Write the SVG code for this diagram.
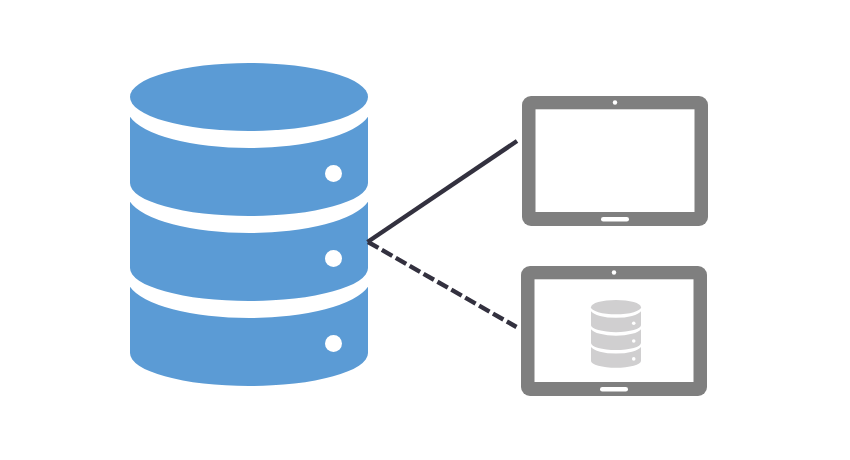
<svg xmlns="http://www.w3.org/2000/svg" width="850" height="460" viewBox="0 0 850 460">
  <style>
    .body { fill: #7f7f7f; }
    .screen, .dot { fill: #ffffff; }
    .link { fill: none; stroke: #33313f; stroke-width: 4.4; }
    .dashed { stroke-dasharray: 12 4; }
  </style>
  <defs>
    <g id="db">
      <ellipse cx="249" cy="97" rx="119" ry="34"/>
      <path d="M130 116.8 A122 40 0 0 0 368 116.8 V183 A119 33 0 0 1 130 183 Z"/>
      <path d="M130 201.8 A122 40 0 0 0 368 201.8 V268 A119 33 0 0 1 130 268 Z"/>
      <path d="M130 286.8 A122 40 0 0 0 368 286.8 V353 A119 33 0 0 1 130 353 Z"/>
      <circle class="dot" cx="333.5" cy="173.5" r="8.5"/>
      <circle class="dot" cx="333.5" cy="258.5" r="8.5"/>
      <circle class="dot" cx="333.5" cy="343.5" r="8.5"/>
    </g>
    <g id="tablet">
      <rect class="body" x="522" y="96" width="186" height="130" rx="9"/>
      <rect class="screen" x="535.5" y="109.3" width="159" height="102.7"/>
      <circle class="screen" cx="615" cy="102.5" r="2.2"/>
      <rect class="screen" x="601" y="217" width="28" height="4.5" rx="2.25"/>
    </g>
  </defs>
  <g id="database" fill="#5b9bd5"><use href="#db"/></g>
  <g id="tablet-empty"><use href="#tablet"/></g>
  <g id="tablet-database">
    <use href="#tablet" transform="translate(-1 170)"/>
    <use href="#db" fill="#d0cfd0" transform="translate(591 300) scale(0.21) translate(-130 -63)"/>
  </g>
  <g id="connectors">
    <path class="link" d="M367.5 242 L517 141"/>
    <path class="link dashed" d="M368 242 L516.5 327"/>
  </g>
</svg>
